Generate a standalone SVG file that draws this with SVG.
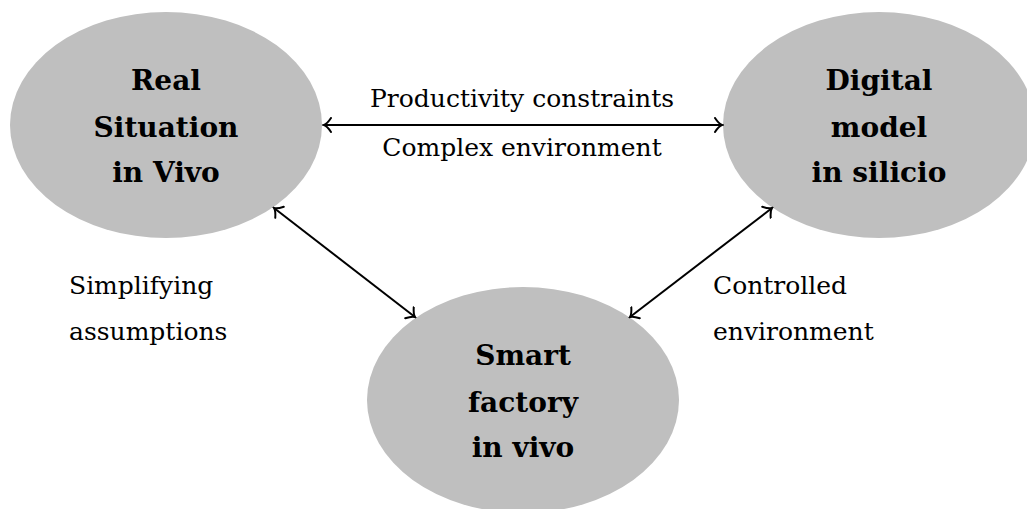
<svg xmlns="http://www.w3.org/2000/svg" width="1027" height="509" viewBox="0 0 1027 509">
<defs>
<style>
.node ellipse{fill:#bfbfbf;stroke:none}
.nt{font-family:"DejaVu Serif","Liberation Serif",serif;font-weight:bold;font-size:28px;fill:#000;text-anchor:middle}
.lbl{font-family:"DejaVu Serif","Liberation Serif",serif;font-size:25px;fill:#000}
.edge{stroke:#000;stroke-width:2;fill:none;marker-start:url(#ah);marker-end:url(#ah)}
</style>
<marker id="ah" viewBox="-10 -8 12 16" markerWidth="12" markerHeight="16" refX="0" refY="0" orient="auto-start-reverse" markerUnits="userSpaceOnUse">
<path d="M-7,-7 Q-3,-1 0,0 Q-3,1 -7,7" fill="none" stroke="#000" stroke-width="2" stroke-linecap="round"/>
</marker>
</defs>
<rect width="1027" height="509" fill="#fff"/>
<g id="real">
<ellipse cx="166" cy="125" rx="156" ry="113" fill="#bfbfbf"/>
<text class="nt" x="166" y="90">Real</text>
<text class="nt" x="166" y="137">Situation</text>
<text class="nt" x="166" y="182">in Vivo</text>
</g>
<g id="digital">
<ellipse cx="879" cy="125" rx="156" ry="113" fill="#bfbfbf"/>
<text class="nt" x="879" y="90">Digital</text>
<text class="nt" x="879" y="137">model</text>
<text class="nt" x="879" y="182">in silicio</text>
</g>
<g id="smart">
<ellipse cx="523" cy="400" rx="156" ry="113" fill="#bfbfbf"/>
<text class="nt" x="523" y="365">Smart</text>
<text class="nt" x="523" y="412">factory</text>
<text class="nt" x="523" y="457">in vivo</text>
</g>
<g id="connectors">
<line class="edge" x1="324" y1="125" x2="722" y2="125"/>
<line class="edge" x1="274" y1="208" x2="415" y2="317"/>
<line class="edge" x1="772" y1="208" x2="630" y2="317"/>
</g>
<g id="labels">
<text class="lbl" x="522" y="107" text-anchor="middle">Productivity constraints</text>
<text class="lbl" x="522" y="156" text-anchor="middle">Complex environment</text>
<text class="lbl" x="69" y="294">Simplifying</text>
<text class="lbl" x="69" y="340">assumptions</text>
<text class="lbl" x="713" y="294">Controlled</text>
<text class="lbl" x="713" y="340">environment</text>
</g>
</svg>
